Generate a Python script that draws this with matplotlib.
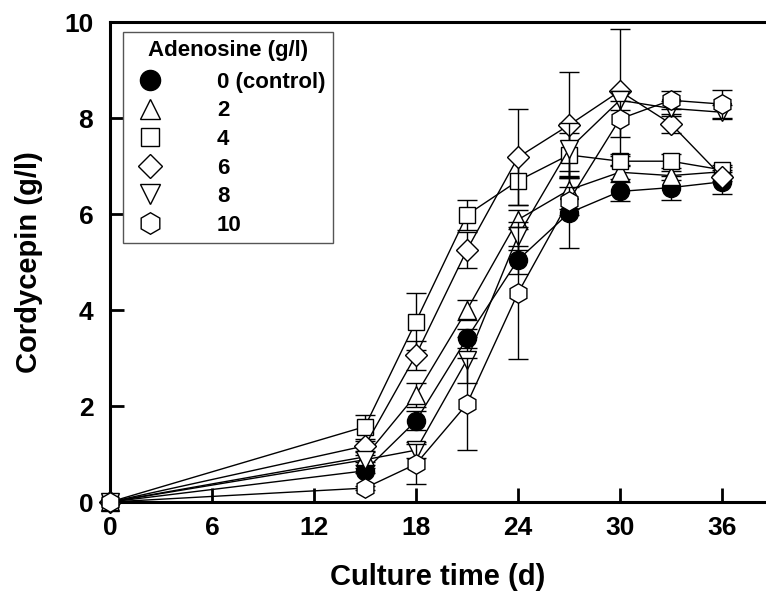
import matplotlib
matplotlib.use("Agg")
import matplotlib.pyplot as plt
from matplotlib.lines import Line2D

plt.rcParams['font.family'] = ['Liberation Sans', 'DejaVu Sans']
plt.rcParams['font.weight'] = 'bold'

days = [0, 15, 18, 21, 24, 27, 30, 33, 36]

labels = ["0 (control)", "2", "4", "6", "8", "10"]
c0 = [0, 0.65, 1.69, 3.41, 5.04, 6.02, 6.47, 6.55, 6.67]
c2 = [0, 0.94, 2.23, 4.00, 5.88, 6.50, 6.87, 6.80, 6.88]
c4 = [0, 1.57, 3.76, 5.98, 6.69, 7.23, 7.10, 7.10, 6.92]
c6 = [0, 1.17, 3.06, 5.25, 7.18, 7.85, 8.56, 7.88, 6.78]
c8 = [0, 0.88, 1.08, 2.96, 5.54, 7.35, 8.37, 8.20, 8.12]
c10 = [0, 0.29, 0.79, 2.04, 4.35, 6.27, 7.98, 8.37, 8.29]

e0 = [0, 0.05, 0.20, 0.20, 0.30, 0.73, 0.20, 0.25, 0.25]
e2 = [0, 0.10, 0.25, 0.20, 0.20, 0.40, 0.15, 0.10, 0.10]
e4 = [0, 0.25, 0.60, 0.32, 0.50, 0.45, 0.10, 0.15, 0.10]
e6 = [0, 0.10, 0.30, 0.38, 1.00, 1.10, 1.30, 0.20, 0.10]
e8 = [0, 0.10, 0.17, 0.48, 0.30, 0.55, 0.20, 0.15, 0.15]
e10 = [0, 0.05, 0.42, 0.95, 1.37, 0.30, 0.38, 0.19, 0.30]

series = [c0, c2, c4, c6, c8, c10]
errors = [e0, e2, e4, e6, e8, e10]
markers = ['o', '^', 's', 'D', 'v', 'h']
msizes = [13, 12.5, 11.5, 11, 12.5, 14]
faces = ['black', 'white', 'white', 'white', 'white', 'white']

xticks = [0, 6, 12, 18, 24, 30, 36]
yticks = [0, 2, 4, 6, 8, 10]

fig = plt.figure(figsize=(7.66, 6.04), dpi=100)
ax = fig.add_axes([110/766, 102/604, 1 - 110/766, 480/604])

for i, (y, e) in enumerate(zip(series, errors)):
    ax.errorbar(days, y, yerr=e, fmt='-', color='black', lw=1.0,
                marker=markers[i], markersize=msizes[i],
                markerfacecolor=faces[i], markeredgecolor='black',
                markeredgewidth=1.0, ecolor='black', elinewidth=1.0,
                capsize=7, capthick=1.0, clip_on=False, zorder=3 + i)

ax.set_xlim(0, 38.6)
ax.set_ylim(0, 10)
ax.set_xticks(xticks)
ax.set_yticks(yticks)
ax.tick_params(direction='in', length=10, width=2, labelsize=19)
ax.tick_params(axis='y', pad=12)
ax.tick_params(axis='x', pad=10)
for lab in ax.get_xticklabels() + ax.get_yticklabels():
    lab.set_fontweight('bold')

for s in ['left', 'bottom', 'top']:
    ax.spines[s].set_linewidth(2.2)
ax.spines['right'].set_visible(False)

ax.set_xlabel("Culture time (d)", fontsize=21, fontweight='bold')
ax.set_ylabel("Cordycepin (g/l)", fontsize=21, fontweight='bold')
ax.xaxis.set_label_coords(0.5, (502 - 563) / 480)
ax.yaxis.set_label_coords((43 - 110) / 656, 0.5)

handles = [Line2D([], [], linestyle='none', marker=markers[i], markersize=msizes[i] + 1.5,
                  markerfacecolor=faces[i], markeredgecolor='black', markeredgewidth=1.0)
           for i in range(6)]
leg = ax.legend(handles, labels, title="Adenosine (g/l)", loc='upper left',
                bbox_to_anchor=(123/766, 1 - 32/604), bbox_transform=fig.transFigure,
                prop={'size': 16, 'weight': 'bold'}, fancybox=False, framealpha=1,
                edgecolor='#555555', labelspacing=0.34, handletextpad=2.15,
                borderpad=0.35, handlelength=1.73, borderaxespad=0)
leg.get_title().set_fontsize(16)
leg.get_title().set_fontweight('bold')
leg.get_frame().set_linewidth(1.0)
leg._legend_box.sep = 8
leg.set_zorder(20)

fig.savefig("out.png", dpi=100)
